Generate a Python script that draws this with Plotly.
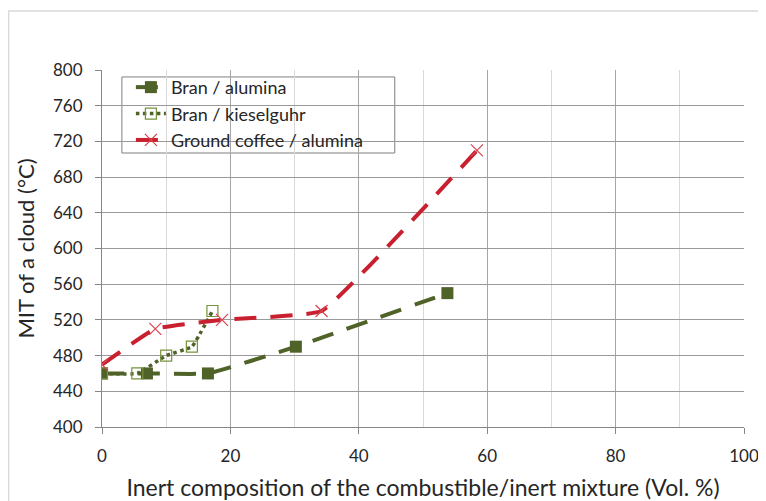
import plotly.graph_objects as go

# Data
bran_alumina_x = [0, 7, 16.5, 30.2, 53.8]
bran_alumina_y = [460, 460, 460, 490, 550]

bran_kiesel_x = [0, 5.5, 10, 14, 17.2]
bran_kiesel_y = [460, 460, 480, 490, 530]

coffee_x = [0, 8.3, 18.7, 34.2, 58.4]
coffee_y = [470, 510, 520, 530, 710]

x_ticks = [0, 20, 40, 60, 80, 100]
y_ticks = [400, 440, 480, 520, 560, 600, 640, 680, 720, 760, 800]

GREEN = "#4F6228"
RED = "#C8202F"
FONT = "Lato"
TXT = "#262626"

fig = go.Figure()

fig.add_trace(go.Scatter(
    x=bran_alumina_x, y=bran_alumina_y, name="Bran / alumina",
    mode="lines+markers",
    line=dict(color=GREEN, width=4, dash="22px,14px", shape="spline", smoothing=0.3),
    marker=dict(symbol="square", size=12, color=GREEN),
))
fig.add_trace(go.Scatter(
    x=bran_kiesel_x, y=bran_kiesel_y, name="Bran / kieselguhr",
    mode="lines+markers",
    line=dict(color=GREEN, width=3.5, dash="dot", shape="spline", smoothing=0.3),
    marker=dict(symbol="square-open", size=11, color="#76923C", line=dict(width=1.2)),
))
fig.add_trace(go.Scatter(
    x=coffee_x, y=coffee_y, name="Ground coffee / alumina",
    mode="lines+markers",
    line=dict(color=RED, width=4, dash="22px,14px", shape="spline", smoothing=0.3),
    marker=dict(symbol="x-thin-open", size=12, color="#D9434E", line=dict(width=1.2, color="#D9434E")),
))

# page body has an 8px margin, so the figure starts at page (8, 8)
fig.update_layout(
    width=758, height=493,
    margin=dict(l=94, r=22, t=62, b=74),
    paper_bgcolor="white", plot_bgcolor="white",
    font=dict(family=FONT, size=17, color=TXT),
    showlegend=True,
    legend=dict(
        x=0.045, y=1.003, xanchor="left", yanchor="top",
        bgcolor="rgba(0,0,0,0)", borderwidth=0,
        font=dict(family=FONT, size=18, color=TXT),
        tracegroupgap=0, itemwidth=30,
    ),
    shapes=[
        # outer chart-area border
        dict(type="rect", xref="paper", yref="paper",
             x0=-0.1455, y0=-0.4, x1=1.2, y1=1.165,
             line=dict(color="#D9D9D9", width=1.5), layer="below"),
        # legend box
        dict(type="rect", xref="x", yref="y",
             x0=3.1, y0=707, x1=45.6, y1=792.2,
             fillcolor="white", line=dict(color="#7F7F7F", width=1), layer="below"),
    ],
)

fig.update_xaxes(
    range=[0, 100], tickvals=x_ticks,
    showgrid=True, gridcolor="#A6A6A6", gridwidth=1,
    minor=dict(dtick=10, showgrid=True, gridcolor="#D9D9D9", gridwidth=1),
    showline=True, linecolor="#868686", linewidth=1,
    ticks="outside", ticklen=6, tickcolor="#868686", ticklabelstandoff=8,
    tickfont=dict(family=FONT, size=17, color=TXT),
    zeroline=False, automargin=False,
    title=dict(text="Inert composition of the combustible/inert mixture (Vol. %)",
               font=dict(family=FONT, size=23, color=TXT), standoff=14),
)
fig.update_yaxes(
    range=[400, 800], tickvals=y_ticks,
    showgrid=True, gridcolor="#999999", gridwidth=1,
    showline=True, linecolor="#868686", linewidth=1,
    ticks="outside", ticklen=6, tickcolor="#868686", ticklabelstandoff=9,
    tickfont=dict(family=FONT, size=17, color=TXT),
    zeroline=False, automargin=False,
    title=dict(text="MIT of a cloud (°C)",
               font=dict(family=FONT, size=22, color=TXT), standoff=12),
)

fig.write_html("out.html")
